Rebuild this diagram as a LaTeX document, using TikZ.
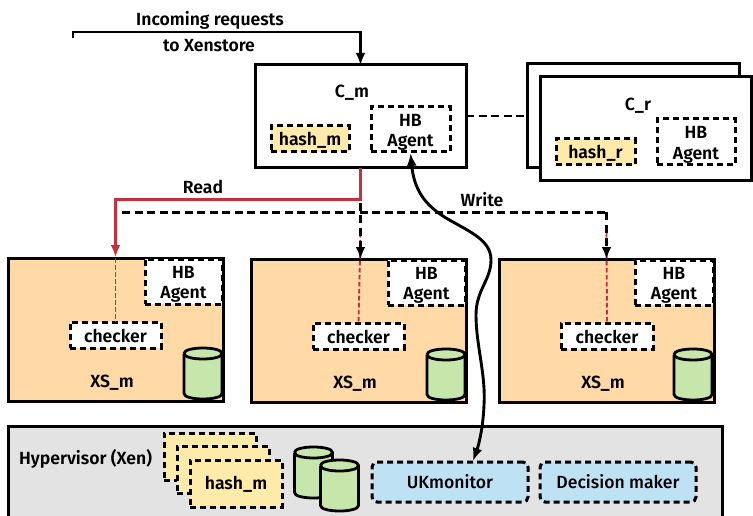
\documentclass[tikz,border=0pt]{standalone}
\usepackage{fontspec}
\setmainfont{Fira Sans}[UprightFont={* SemiBold},BoldFont={* Bold}]
\newfontfamily\regfont{Fira Sans}[UprightFont={* Medium}]
\usetikzlibrary{arrows.meta}
\definecolor{xsfill}{HTML}{FFD9A6}
\definecolor{hashfill}{HTML}{FFEBA9}
\definecolor{dbfill}{HTML}{C6E6AC}
\definecolor{ukfill}{HTML}{BEE1F4}
\definecolor{hvfill}{HTML}{E3E3E3}
\definecolor{redline}{HTML}{C62F3E}
\tikzset{
  x=1pt,y=-1pt,
  every node/.style={inner sep=0pt,outer sep=0pt,font=\fontsize{17.6}{20.5}\selectfont,align=center},
  solidbox/.style={draw=black,line width=3pt,fill=white},
  dashbox/.style={draw=black,line width=3pt,dash pattern=on 6pt off 4pt},
  agentbox/.style={dashbox,fill=white},
  hashbox/.style={dashbox,fill=hashfill},
  xsbox/.style={solidbox,fill=xsfill},
  hvbox/.style={solidbox,fill=hvfill},
  ukbox/.style={dashbox,fill=ukfill,rounded corners=5pt},
  dbpath/.style={draw=black,line width=2.8pt,fill=dbfill},
  conn/.style={draw=black,line width=2.9pt},
  dashconn/.style={conn,dash pattern=on 8pt off 4.5pt},
  redconn/.style={draw=redline,line width=3pt},
  reddash/.style={draw=redline,line width=1.9pt,dash pattern=on 4.5pt off 2.5pt},
  tip/.style={-{Latex[length=12pt,width=10pt]}},
}
\newcommand{\agenttxt}{\rule{0pt}{18pt}HB\\Agent}
\newcommand{\lowtxt}[1]{\rule{0pt}{15pt}#1}
% name, x1, y1, x2, y2, style, text
\newcommand{\bx}[7]{\node[#6,minimum width={(#4)-(#2)},minimum height={(#5)-(#3)},anchor=center] (#1) at ({((#2)+(#4))/2},{((#3)+(#5))/2}) {#7};}
% name, centre x, top, bottom: a cylinder 38 wide
\newcommand{\dbcyl}[4]{%
  \node[minimum width=38pt,minimum height={(#4)-(#3)}] (#1) at (#2,{((#3)+(#4))/2}) {};
  \path[dbpath] ({#2-19},{#3+5.5}) -- ({#2-19},{#4-5.5})
    .. controls ({#2-19},{#4-2}) and ({#2-10},{#4}) .. (#2,#4)
    .. controls ({#2+10},{#4}) and ({#2+19},{#4-2}) .. ({#2+19},{#4-5.5})
    -- ({#2+19},{#3+5.5})
    .. controls ({#2+19},{#3+2}) and ({#2+10},{#3}) .. (#2,#3)
    .. controls ({#2-10},{#3}) and ({#2-19},{#3+2}) .. ({#2-19},{#3+5.5});
  \path[dbpath,fill=none] ({#2-19},{#3+5.5})
    .. controls ({#2-19},{#3+9}) and ({#2-10},{#3+11}) .. (#2,{#3+11})
    .. controls ({#2+10},{#3+11}) and ({#2+19},{#3+9}) .. ({#2+19},{#3+5.5});
}
\begin{document}
\begin{tikzpicture}
\useasboundingbox (0,0) rectangle (753,516);
% Cm
\bx{cm}{255}{65}{466}{168}{solidbox}{}
\bx{hashm}{271}{126}{349}{152}{hashbox}{\lowtxt{hash\_m}}
\bx{hbm}{371}{107}{450}{152}{agentbox}{\agenttxt}
\node (cmlabel) at (352,92.5) {C\_m};
% Cr
\bx{crback}{527}{64}{739}{168}{solidbox}{}
\bx{cr}{540}{77}{751}{181}{solidbox}{}
\bx{hashr}{556}{139}{635}{165}{hashbox}{\lowtxt{hash\_r}}
\bx{hbr}{657}{119}{735}{165}{agentbox}{\agenttxt}
\node (crlabel) at (638,105.5) {C\_r};
% XS 1
\bx{xsa}{8}{258}{223}{401}{xsbox}{}
\bx{hba}{145}{259}{222}{304}{agentbox}{\agenttxt}
\bx{chka}{70}{322}{161}{348}{agentbox}{\lowtxt{checker}}
\dbcyl{dba}{203}{348}{399}
\node (xsla) at (112,383) {XS\_m};
% XS 2
\bx{xsb}{251}{259}{466}{402}{xsbox}{}
\bx{hbb}{388}{260}{465}{305}{agentbox}{\agenttxt}
\bx{chkb}{313}{323}{404}{349}{agentbox}{\lowtxt{checker}}
\dbcyl{dbb}{446}{349}{400}
\node (xslb) at (355,384) {XS\_m};
% XS 3
\bx{xsc}{499}{259}{714}{402}{xsbox}{}
\bx{hbc}{635}{260}{713}{305}{agentbox}{\agenttxt}
\bx{chkc}{561}{323}{653}{349}{agentbox}{\lowtxt{checker}}
\dbcyl{dbc}{693}{349}{400}
\node (xslc) at (603,384) {XS\_m};
% Hypervisor
\bx{hv}{8}{426}{722}{520}{hvbox}{}
\node (hvl) at (85.5,459) {Hypervisor (Xen)};
\bx{hs1}{164}{433}{256}{480}{hashbox}{}
\bx{hs2}{177}{446}{269}{493}{hashbox}{}
\bx{hs3}{190}{460}{282}{507}{hashbox}{\lowtxt{hash\_m}}
\dbcyl{dbh1}{313.5}{447}{498}
\dbcyl{dbh2}{339.5}{460}{511}
\bx{uk}{372}{462}{528}{502}{ukbox}{\regfont UKmonitor}
\bx{dm}{540}{462}{696}{502}{ukbox}{\regfont Decision maker}
% Incoming
\coordinate (ina) at (73,38);
\coordinate (inb) at (73,32);
\draw[conn,tip] (ina) -- (inb) -| (cm.north);
\node (inl1) at (210,20.5) {Incoming requests};
\node (inl2) at (209,46) {to Xenstore};
% Cm--Cr
\coordinate (lk) at (466,116);
\draw[dashconn] (lk) -- (lk -| crback.west);
% red dashed inside XS
\coordinate (rb) at (360.5,233);
\coordinate (rc) at (606.5,233);
\draw[reddash] (xsa.north) -- (chka.north);
\draw[reddash] (rb) -- (chkb.north);
\draw[reddash] (rc) -- (chkc.north);
% Read
\coordinate (rbend) at (115.5,200);
\draw[redconn,tip,shorten >=1pt] (cm.south) |- (rbend) -- (xsa.north);
\node (readl) at (203,187) {Read};
% Write
\coordinate (wl) at (122,212.5);
\coordinate (wr) at (606.5,212.5);
\draw[dashconn] (wl) -- (wr);
\draw[dashconn,tip] (wr) -- (wr |- xsc.north);
\coordinate (wm) at (360.5,203);
\draw[dashconn,tip] (wm) -- (wm |- xsb.north);
\node (writel) at (482,200) {Write};
% HB <-> UK
\coordinate (ukt) at (473,461);
\draw[conn,{Latex[length=13pt,width=10pt]}-{Latex[length=13pt,width=10pt]}] (hbm.south) ++(0,1)
  .. controls (414,190) and (425,205) .. (446,218)
  .. controls (470,232) and (491,240) .. (491,260)
  .. controls (491,280) and (476,290) .. (476,315)
  .. controls (476,345) and (486,375) .. (484,405)
  .. controls (483,430) and (478,447) .. (ukt);
\end{tikzpicture}
\end{document}
